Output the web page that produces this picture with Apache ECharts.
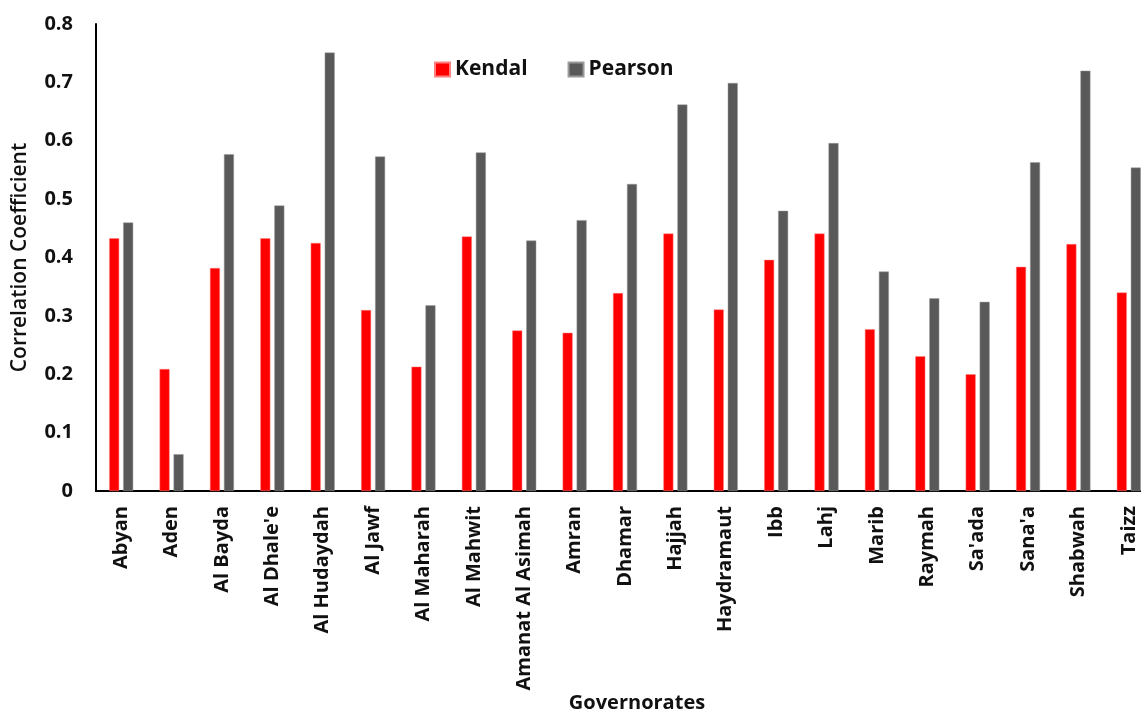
<!DOCTYPE html>
<html>
<head>
<meta charset="utf-8">
<script src="https://cdn.jsdelivr.net/npm/echarts@6/dist/echarts.min.js"></script>
<style>
html,body{margin:0;padding:0;background:#fff;overflow:hidden;}
#chart{width:1141px;height:713px;}
</style>
</head>
<body>
<div id="chart"></div>
<script>
const categories = ["Abyan","Aden","Al Bayda","Al Dhale'e","Al Hudaydah","Al Jawf","Al Maharah","Al Mahwit","Amanat Al Asimah","Amran","Dhamar","Hajjah","Haydramaut","Ibb","Lahj","Marib","Raymah","Sa'ada","Sana'a","Shabwah","Taizz"];
const kendal = [0.433,0.209,0.382,0.433,0.425,0.310,0.213,0.436,0.275,0.271,0.339,0.441,0.311,0.396,0.441,0.277,0.231,0.200,0.384,0.423,0.340];
const pearson = [0.460,0.063,0.577,0.489,0.751,0.573,0.318,0.580,0.429,0.464,0.526,0.662,0.699,0.480,0.596,0.376,0.330,0.324,0.563,0.720,0.554];
const yTicks = [0,0.1,0.2,0.3,0.4,0.5,0.6,0.7,0.8];

const chart = echarts.init(document.getElementById('chart'));
const font = "'Open Sans', 'DejaVu Sans', sans-serif";
chart.setOption({
  animation: false,
  backgroundColor: '#fff',
  textStyle: {fontFamily: font},
  legend: {
    data: ['Kendal','Pearson'],
    left: 429, top: 54,
    itemWidth: 15, itemHeight: 14, itemGap: 40,
    icon: 'rect',
    textStyle: {fontSize: 21, fontWeight: 'bold', color: '#111', fontFamily: font}
  },
  grid: {left: 96, top: 24, width: 1058, bottom: 222, containLabel: false, outerBoundsMode: 'none'},
  xAxis: {
    type: 'category',
    data: categories,
    name: 'Governorates',
    nameLocation: 'middle',
    nameGap: 212,
    nameMoveOverlap: false,
    nameTextStyle: {fontSize: 20, fontWeight: 'bold', color: '#111', fontFamily: font, padding: [0,0,0,24], verticalAlign: 'middle'},
    axisLine: {lineStyle: {color: '#000', width: 2}},
    axisTick: {show: false},
    axisLabel: {rotate: 90, interval: 0, margin: 15, fontSize: 20, fontWeight: 'bold', color: '#111', fontFamily: font}
  },
  yAxis: {
    type: 'value',
    min: 0, max: 0.8, interval: 0.1,
    name: 'Correlation Coefficient',
    nameLocation: 'middle',
    nameGap: 65,
    nameMoveOverlap: false,
    nameTextStyle: {fontSize: 21, fontWeight: 600, color: '#111', fontFamily: font},
    axisLine: {show: true, lineStyle: {color: '#000', width: 2}},
    axisTick: {show: false},
    splitLine: {show: false},
    axisLabel: {margin: 23, fontSize: 20, fontWeight: 'bold', color: '#111', fontFamily: font,
      formatter: v => { const t = yTicks.find(x => Math.abs(x - v) < 1e-9); return t === 0 ? '0' : String(t); }}
  },
  series: [
    {name: 'Kendal', type: 'bar', data: kendal, barWidth: 10, barGap: '40%',
     itemStyle: {color: '#FF0000', borderColor: '#ff8080', borderWidth: 0.5}},
    {name: 'Pearson', type: 'bar', data: pearson, barWidth: 10,
     itemStyle: {color: '#595959', borderColor: '#9a9a9a', borderWidth: 0.5}}
  ]
});
</script>
</body>
</html>
